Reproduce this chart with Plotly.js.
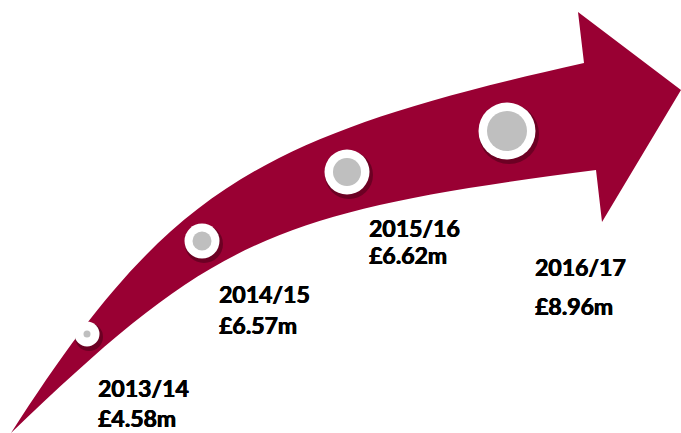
<!DOCTYPE html>
<html>
<head>
<meta charset="utf-8">
<script src="https://cdn.plot.ly/plotly-3.0.1.min.js"></script>
<style>html,body{margin:0;padding:0;background:#fff;}#chart{width:681px;height:433px;}</style>
</head>
<body>
<div id="chart"></div>
<script>
// ---- data ----
const years = ['2013/14', '2014/15', '2015/16', '2016/17'];
const values = [4.58, 6.57, 6.62, 8.96];
const valueLabels = values.map(v => '£' + v.toFixed(2) + 'm');

// ---- layout (positions / sizes, pixel-like data units) ----
const markerX = [87, 202, 347, 507];
const markerY = [334, 241, 172, 131];
const ringSize = [25, 35, 45, 57];
const dotSize = [7, 19, 28, 40];
const labelX = [96, 217, 367, 533];
const yearY = [388, 294, 228, 267];
const valueY = [418, 325, 255, 306];

const arrowColor = '#990033';
const arrowPath = 'M 11,433 C 166,192 252,137 584,63 L 578,12 L 681,90 L 602,222 L 596,170 C 271,212 213,239 11,433 Z';

const shadow = {
  x: markerX.map(x => x + 2), y: markerY.map(y => y + 3),
  mode: 'markers', type: 'scatter', hoverinfo: 'skip',
  marker: {size: ringSize.map(s => s + 3), color: 'rgba(40,0,12,0.4)', opacity: 1, line: {width: 0}}
};
const ring = {
  x: markerX, y: markerY, mode: 'markers', type: 'scatter', hoverinfo: 'skip',
  marker: {size: ringSize, color: '#ffffff', opacity: 1, line: {width: 0}}
};
const dot = {
  x: markerX, y: markerY, mode: 'markers', type: 'scatter',
  text: years.map((y, i) => y + ': ' + valueLabels[i]), hoverinfo: 'text',
  marker: {size: dotSize, color: '#bfbfbf', opacity: 1, line: {width: 0}}
};

const font = {family: 'Lato, "Open Sans", sans-serif', size: 23, color: '#000000', weight: 'bold',
  shadow: '0.5px 0 0 #000, -0.3px 0 0 #000'};
const annotations = [];
years.forEach((yr, i) => {
  annotations.push({x: labelX[i], y: yearY[i], xref: 'x', yref: 'y', text: yr, showarrow: false,
    xanchor: 'left', yanchor: 'middle', font: font});
  annotations.push({x: labelX[i], y: valueY[i], xref: 'x', yref: 'y', text: valueLabels[i], showarrow: false,
    xanchor: 'left', yanchor: 'middle', font: font});
});

const layout = {
  width: 681, height: 433,
  margin: {l: 0, r: 0, t: 0, b: 0, pad: 0},
  paper_bgcolor: '#ffffff', plot_bgcolor: '#ffffff',
  showlegend: false,
  xaxis: {range: [0, 681], visible: false, fixedrange: true},
  yaxis: {range: [433, 0], visible: false, fixedrange: true},
  shapes: [{type: 'path', path: arrowPath, xref: 'x', yref: 'y', fillcolor: arrowColor,
    line: {width: 0}, layer: 'below'}],
  annotations: annotations
};

Plotly.newPlot('chart', [shadow, ring, dot], layout, {displayModeBar: false, staticPlot: true});
</script>
</body>
</html>
